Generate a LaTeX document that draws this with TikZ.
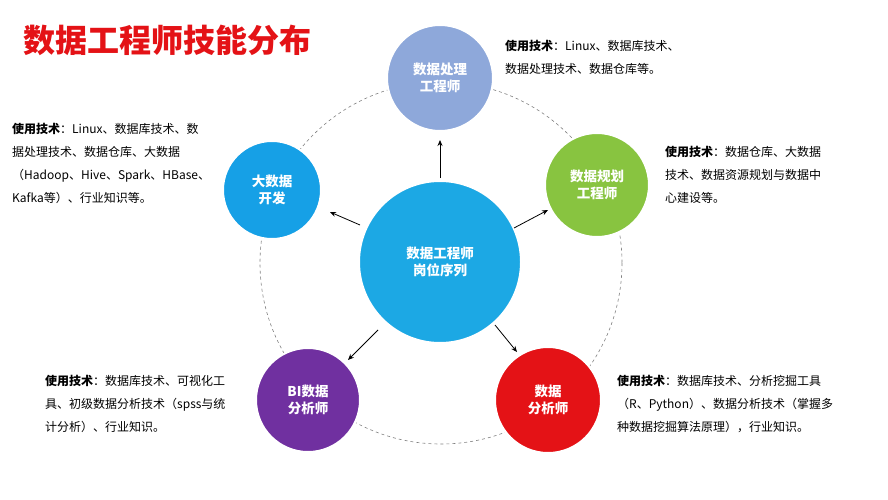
\documentclass[tikz,border=0pt]{standalone}
\usepackage{fontspec}
\setmainfont{Noto Sans CJK SC}
\usetikzlibrary{arrows.meta}
\definecolor{cTop}{RGB}{142,168,218}
\definecolor{cRight}{RGB}{136,196,64}
\definecolor{cBR}{RGB}{228,18,22}
\definecolor{cBL}{RGB}{112,48,160}
\definecolor{cLeft}{RGB}{22,160,230}
\definecolor{cMid}{RGB}{28,168,228}
\begin{document}
\begin{tikzpicture}[x=1pt,y=-1pt,
  ball/.style={circle,draw=white,line width=2pt,text=white,font=\bfseries\fontsize{13.5}{17}\selectfont,align=center,inner sep=0pt},
  arr/.style={-{Stealth[length=6pt,width=5pt]},line width=0.8pt},
  desc/.style={anchor=north west,align=left,font=\fontsize{12}{23}\selectfont,inner sep=0pt}]
\useasboundingbox (0,0) rectangle (888,500);
\fill[white] (0,0) rectangle (888,500);
\node[anchor=west,text=cBR,font=\bfseries\fontsize{32}{36}\selectfont] (title) at (20,40) {数据工程师技能分布};
\draw[dashed,gray,line width=0.6pt] (441,263) circle (181);
\node[ball,fill=cMid,minimum size=162pt] (mid) at (440,262) {数据工程师\\岗位序列};
\node[ball,fill=cTop,minimum size=106pt] (top) at (440,78) {数据处理\\工程师};
\node[ball,fill=cRight,minimum size=104pt] (right) at (597,185) {数据规划\\工程师};
\node[ball,fill=cBR,minimum size=106pt] (br) at (548,400) {数据\\分析师};
\node[ball,fill=cBL,minimum size=104pt] (bl) at (308,400) {BI数据\\分析师};
\node[ball,fill=cLeft,minimum size=98pt] (left) at (272,190) {大数据\\开发};
\draw[arr] (440,178) -- (440,140);
\draw[arr] (514,228) -- (548,210);
\draw[arr] (495,325) -- (517,352);
\draw[arr] (378,330) -- (348,360);
\draw[arr] (360,225) -- (330,212);
\node[desc] (dtop) at (505,40) {\textbf{使用技术}：Linux、数据库技术、\\数据处理技术、数据仓库等。};
\node[desc] (dright) at (665,146) {\textbf{使用技术}：数据仓库、大数据\\技术、数据资源规划与数据中\\心建设等。};
\node[desc] (dleft) at (12,123) {\textbf{使用技术}：Linux、数据库技术、数\\据处理技术、数据仓库、大数据\\（Hadoop、Hive、Spark、HBase、\\Kafka等）、行业知识等。};
\node[desc] (dbl) at (45,375) {\textbf{使用技术}：数据库技术、可视化工\\具、初级数据分析技术（spss与统\\计分析）、行业知识。};
\node[desc] (dbr) at (617,375) {\textbf{使用技术}：数据库技术、分析挖掘工具\\（R、Python）、数据分析技术（掌握多\\种数据挖掘算法原理），行业知识。};
\end{tikzpicture}
\end{document}
